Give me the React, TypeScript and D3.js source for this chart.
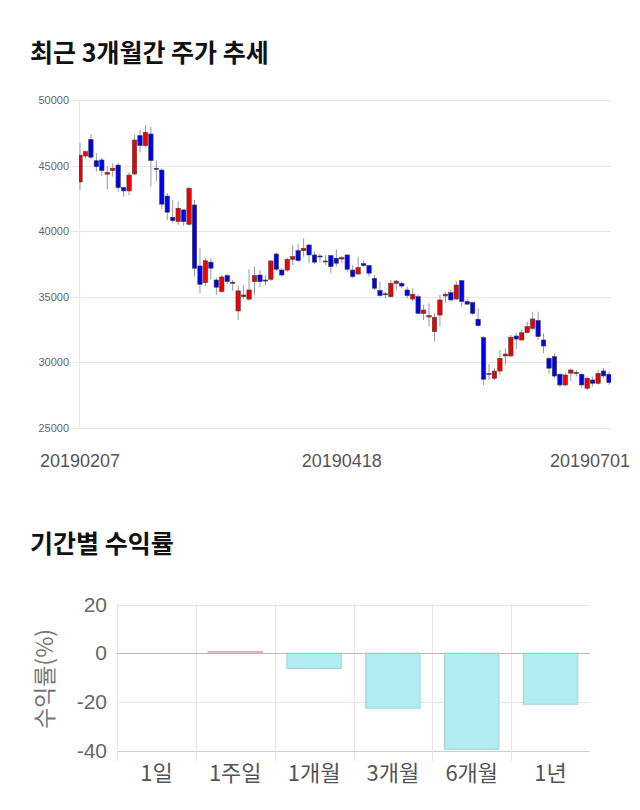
import React from "react";
import * as d3 from "d3";

// ---- Candlestick data (KRW), left to right ----
const opens = [43750,45730,47000,45370,45430,44340,44620,45040,43320,43070,44360,47290,46520,47410,44800,44660,42680,41060,40730,41620,40530,42000,37350,36080,37640,36280,35400,36620,36110,33920,35010,34820,36160,36660,36280,36340,38260,37040,37040,37860,38520,38520,38950,38190,38110,37700,38140,37940,37880,38190,37040,36740,37530,37380,36410,35480,35230,35010,36030,36030,35520,34830,35010,33740,33460,32340,33610,35060,35320,34830,36230,34640,34560,33290,31890,29160,28790,29340,30490,30490,32010,31710,32270,32600,33190,31710,30310,30440,29100,28280,29180,29230,29100,28030,28660,28410,29350,29100];
const highs = [46720,46150,47410,45960,45600,44920,45170,45170,43400,44470,47330,47710,48100,47940,45380,44800,42900,42380,42250,41700,43400,42380,38700,37940,37940,36460,36660,36740,36280,35820,35900,37100,37300,37040,36660,37800,38370,37170,37990,38950,39030,39460,39030,38440,38260,38190,38190,38620,38110,38220,37420,38060,37800,37450,36660,36160,35390,36280,36280,36160,35770,35650,35200,34370,34510,33740,35140,35390,35520,36160,36280,34830,34640,34120,32010,29880,29550,30950,31070,32090,32220,32470,33100,33870,33870,32220,30440,30700,29170,29170,29550,29420,29170,28920,28920,29420,29590,29300];
const lows = [43140,45550,45500,44540,44200,43200,44160,43020,42630,42760,44300,46010,46400,43400,43780,41680,40860,40630,40470,40400,40400,36540,35270,35820,36340,35140,35300,35980,35450,33230,34820,34700,35140,35770,35900,36200,36950,36540,36900,37420,37650,38060,37550,37480,37600,37420,36790,37300,37600,36860,36420,36660,37300,36540,35520,35010,34880,34950,35520,35650,34880,34640,33700,33230,32730,31590,32730,34510,34640,34760,34250,34380,33610,32730,28280,28660,28650,29040,29800,30400,31010,31650,32200,32470,31710,30700,29120,28790,28120,28200,28540,28920,28040,27900,28160,28300,28790,28300];
const closes = [45800,46060,45640,44920,44620,44490,44800,43320,43070,44280,46950,46520,47540,45380,44780,42060,41450,40810,41750,40730,43270,37180,35950,37750,37180,35730,36510,36160,36030,35450,35140,35520,36620,36160,36200,37730,37100,36660,37860,38060,37760,38700,38190,37640,38060,37730,37300,37560,37990,37100,36540,37220,37380,36800,35650,35090,35180,36030,36200,35820,35090,35200,33740,33990,33560,33440,34760,35200,34760,35900,34640,34440,33740,32800,28720,29100,29340,30310,30640,31920,31780,32260,32730,33310,31970,31250,29560,28960,28280,29040,29420,29180,28280,28790,28410,29170,28970,28460];

const priceTicks = [25000, 30000, 35000, 40000, 45000, 50000];
const dateLabels = ["20190207", "20190418", "20190701"];
const dateLabelIndex = [0, 48, 97];

// ---- Period returns ----
const periods = ["1일", "1주일", "1개월", "3개월", "6개월", "1년"];
const returns = [0, 0.6, -6.3, -22.6, -39.5, -21.0];
const returnTicks = [20, 0, -20, -40];

const FONT = "'Liberation Sans', Arial, sans-serif";
const KFONT = "'Noto Sans CJK KR', 'Noto Sans', sans-serif";

export default function App() {
  const W = 640, H = 810;

  // top chart
  const x0 = 80, x1 = 609;
  const y = d3.scaleLinear().domain([25000, 50000]).range([428, 100]);
  const x = d3.scaleLinear().domain([0, opens.length - 1]).range([x0, x1]);
  const bw = 4.4;

  // bottom chart
  const bx = d3.scaleBand().domain(periods).range([117, 590]).paddingInner(0).paddingOuter(0);
  const by = d3.scaleLinear().domain([-40, 20]).range([750.5, 604.5]);
  const barW = bx.bandwidth() * 0.69;

  return (
    <svg width={W} height={H} style={{ display: "block", position: "absolute", left: 0, top: 0 }}>
      <rect x={0} y={0} width={W} height={H} fill="#fff" />
      <text x={30} y={62} fontFamily={KFONT} fontWeight="bold" fontSize={25} fill="#111">최근 3개월간 주가 추세</text>

      <defs>
        <clipPath id="plotclip">
          <rect x={79} y={90} width={532} height={345} />
        </clipPath>
      </defs>

      {priceTicks.map((t) => (
        <g key={t}>
          <line x1={70} x2={611} y1={Math.round(y(t)) + 0.5} y2={Math.round(y(t)) + 0.5} stroke="#e6e6e6" strokeWidth={1} />
          <text x={69} y={y(t) + 4} textAnchor="end" fontFamily={FONT} fontSize={11} fill="#666">{t}</text>
        </g>
      ))}
      <line x1={79.5} x2={79.5} y1={100} y2={428} stroke="#e6e6e6" strokeWidth={1} />

      <g clipPath="url(#plotclip)">
        {opens.map((o, i) => {
          const c = closes[i];
          const up = c >= o;
          const top = y(Math.max(o, c));
          const bot = y(Math.min(o, c));
          const cx = x(i);
          return (
            <g key={i}>
              <line x1={cx} x2={cx} y1={y(highs[i])} y2={y(lows[i])} stroke="#999" strokeWidth={1} />
              <rect x={cx - bw / 2} y={top} width={bw} height={Math.max(bot - top, 1)}
                fill={up ? "#ee0000" : "#0000ee"} stroke="#444" strokeWidth={0.6} />
            </g>
          );
        })}
      </g>

      {dateLabels.map((d, k) => {
        const cx = x(dateLabelIndex[k]);
        const half = 40;
        const pos = Math.min(cx, W - 10 - half);
        return (
          <text key={d} x={pos} y={467} textAnchor="middle" fontFamily={FONT} fontSize={18} fill="#555">{d}</text>
        );
      })}

      <text x={30} y={553} fontFamily={KFONT} fontWeight="bold" fontSize={25} fill="#111">기간별 수익률</text>

      {/* bottom chart grid */}
      {returnTicks.map((t) => (
        <g key={t}>
          <line x1={117} x2={590} y1={Math.round(by(t)) + 0.5} y2={Math.round(by(t)) + 0.5}
            stroke={t === 0 ? "#bbb" : t === -40 ? "#ccc" : "#e6e6e6"} strokeWidth={1} />
          <text x={107} y={by(t) + 7} textAnchor="end" fontFamily={FONT} fontSize={21} fill="#666">{t}</text>
        </g>
      ))}
      {periods.map((p) => (
        <line key={"v" + p} x1={Math.round(bx(p)!) + 0.5} x2={Math.round(bx(p)!) + 0.5} y1={604} y2={761} stroke="#e6e6e6" strokeWidth={1} />
      ))}

      {periods.map((p, i) => {
        const v = returns[i];
        if (v === 0) return null;
        const cx = bx(p)! + bx.bandwidth() / 2;
        const yTop = by(Math.max(v, 0));
        const yBot = by(Math.min(v, 0));
        return (
          <rect key={"b" + p} x={cx - barW / 2} y={yTop} width={barW} height={Math.max(yBot - yTop, 1)}
            fill={v > 0 ? "#f0c0c0" : "#b2ebf2"} stroke={v > 0 ? "#e0a8a8" : "#9ad3dc"} strokeWidth={1} />
        );
      })}
      <line x1={117} x2={590} y1={Math.round(by(0)) + 0.5} y2={Math.round(by(0)) + 0.5} stroke="#bbb" strokeWidth={1} />

      {periods.map((p) => (
        <text key={"l" + p} x={bx(p)! + bx.bandwidth() / 2} y={781} textAnchor="middle" fontFamily={KFONT} fontSize={22} fill="#555">{p}</text>
      ))}

      <text transform={`translate(53, ${679}) rotate(-90)`} textAnchor="middle" fontFamily={KFONT} fontSize={23} fill="#777">수익률(%)</text>
    </svg>
  );
}
